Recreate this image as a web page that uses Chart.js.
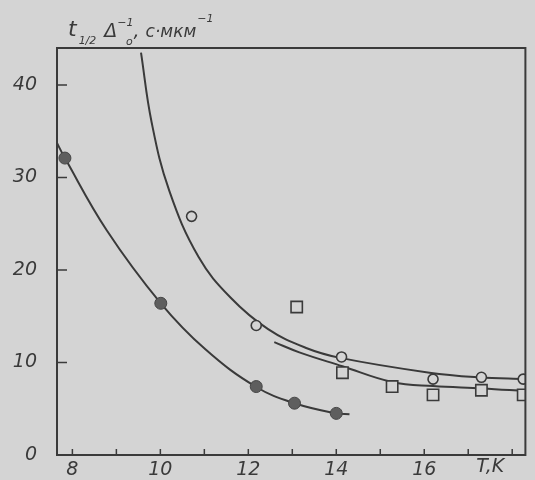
<!DOCTYPE html>
<html>
<head>
<meta charset="utf-8">
<script src="https://cdn.jsdelivr.net/npm/chart.js@4/dist/chart.umd.min.js"></script>
<style>
  html, body { margin: 0; padding: 0; background: #d4d4d4; }
  #wrap { width: 535px; height: 480px; }
</style>
</head>
<body>
<div id="wrap"><canvas id="chart" width="535" height="480"></canvas></div>
<script>
// axis ticks
const xTicks = [8, 9, 10, 11, 12, 13, 14, 15, 16, 17, 18];
const yTicks = [0, 10, 20, 30, 40];

// measured points
const filledT = [7.83, 10.01, 12.18, 13.05, 14.0];
const filledV = [32.1, 16.4, 7.4, 5.6, 4.5];
const openT = [10.71, 12.18, 14.12, 16.2, 17.3, 18.25];
const openV = [25.8, 14.0, 10.6, 8.2, 8.4, 8.2];
const squareT = [13.1, 14.14, 15.27, 16.2, 17.3, 18.25];
const squareV = [16.0, 8.9, 7.4, 6.5, 7.0, 6.5];

// hand-drawn curves
const curveFilledT = [7.6, 7.83, 8.78, 10.01, 11.03, 12.18, 13.05, 14.0, 14.3];
const curveFilledV = [34.2, 32.1, 24.3, 16.4, 11.4, 7.35, 5.6, 4.5, 4.4];
const curveOpenT = [9.56, 9.8, 10.2, 10.87, 11.6, 12.45, 13.3, 14.09, 16.12, 17.24, 18.3];
const curveOpenV = [43.5, 36.0, 28.6, 21.4, 17.0, 13.6, 11.6, 10.5, 8.9, 8.4, 8.2];
const curveSquareT = [12.59, 13.16, 14.14, 15.27, 16.2, 17.32, 18.3];
const curveSquareV = [12.2, 11.1, 9.6, 7.9, 7.45, 7.2, 6.9];

const ink = "#3a3a3a";
const paper = "#d4d4d4";
const pts = (xs, ys) => xs.map((x, i) => ({ x: x, y: ys[i] }));

// frame, inward ticks and hand-written labels
const decor = {
  id: "decor",
  afterDraw(chart) {
    const ctx = chart.ctx;
    const a = chart.chartArea;
    const xs = chart.scales.x, ys = chart.scales.y;
    ctx.save();
    ctx.strokeStyle = ink;
    ctx.lineWidth = 2;
    ctx.strokeRect(a.left, a.top, a.right - a.left, a.bottom - a.top);
    ctx.lineWidth = 1.5;
    ctx.beginPath();
    xTicks.forEach(v => {
      const px = xs.getPixelForValue(v);
      ctx.moveTo(px, a.bottom);
      ctx.lineTo(px, a.bottom - 6);
    });
    yTicks.slice(1).forEach(v => {
      const py = ys.getPixelForValue(v);
      ctx.moveTo(a.left, py);
      ctx.lineTo(a.left + 10, py);
    });
    ctx.stroke();

    ctx.fillStyle = ink;
    ctx.textBaseline = "alphabetic";
    ctx.textAlign = "center";
    ctx.font = "italic 19px 'DejaVu Sans'";
    ctx.fillText("T,K", xs.getPixelForValue(17.5), 472);

    // y title: t1/2 Δo^-1, с·мкм^-1, written piece by piece
    ctx.textAlign = "left";
    const parts = [
      ["t", 22, 36, 0],
      ["1/2", 11, 44, 2],
      ["Δ", 19, 37, 8],
      ["−1", 11, 26, 0],
      [",", 19, 37, 0],
      ["с·мкм", 17, 37, 6],
      ["−1", 11, 22, 1]
    ];
    let cx = 68;
    parts.forEach(p => {
      cx += p[3];
      ctx.font = "italic " + p[1] + "px 'DejaVu Sans'";
      ctx.fillText(p[0], cx, p[2]);
      cx += ctx.measureText(p[0]).width;
    });
    ctx.font = "italic 11px 'DejaVu Sans'";
    ctx.fillText("o", 126, 45);
    ctx.restore();
  }
};

new Chart(document.getElementById("chart"), {
  type: "scatter",
  data: {
    datasets: [
      { data: pts(filledT, filledV), pointStyle: "circle", pointRadius: 6,
        backgroundColor: "#5e5e5e", borderColor: "#454545", borderWidth: 1, order: 0 },
      { data: pts(openT, openV), pointStyle: "circle", pointRadius: 5,
        backgroundColor: paper, borderColor: ink, borderWidth: 1.6, order: 0 },
      { data: pts(squareT, squareV), pointStyle: "rect", pointRadius: 8,
        backgroundColor: paper, borderColor: ink, borderWidth: 1.6, order: 0 },
      { data: pts(curveFilledT, curveFilledV), showLine: true, pointRadius: 0,
        borderColor: ink, borderWidth: 2, tension: 0.4, order: 1 },
      { data: pts(curveOpenT, curveOpenV), showLine: true, pointRadius: 0,
        borderColor: ink, borderWidth: 2, tension: 0.4, order: 1 },
      { data: pts(curveSquareT, curveSquareV), showLine: true, pointRadius: 0,
        borderColor: ink, borderWidth: 2, tension: 0.4, order: 1 }
    ]
  },
  options: {
    responsive: false,
    animation: false,
    layout: { padding: { top: 48, right: 5, left: 0, bottom: 0 } },
    plugins: { legend: { display: false }, tooltip: { enabled: false } },
    scales: {
      x: {
        type: "linear", min: 7.65, max: 18.3,
        afterBuildTicks: s => { s.ticks = xTicks.map(v => ({ value: v })); },
        afterFit: s => { s.height = 25; },
        grid: { display: false, drawTicks: false },
        border: { display: false },
        ticks: {
          padding: 4, color: ink, autoSkip: false, maxRotation: 0,
          font: { family: "'DejaVu Sans'", style: "italic", size: 19 },
          callback: v => (v % 2 === 0 && v <= 16 ? String(v) : "")
        }
      },
      y: {
        type: "linear", min: 0, max: 44,
        afterBuildTicks: s => { s.ticks = yTicks.map(v => ({ value: v })); },
        afterFit: s => { s.width = 57; s.paddingTop = 0; s.paddingBottom = 10; },
        grid: { display: false, drawTicks: false },
        border: { display: false },
        ticks: {
          padding: 20, color: ink,
          font: { family: "'DejaVu Sans'", style: "italic", size: 19 }
        }
      }
    }
  },
  plugins: [decor]
});
</script>
</body>
</html>
